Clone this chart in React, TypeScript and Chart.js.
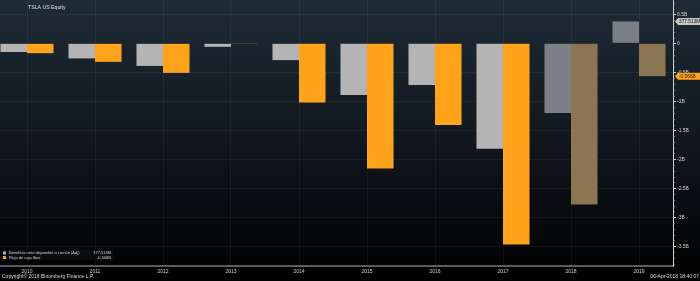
import React, { useEffect, useRef } from "react";
import { Chart, registerables } from "chart.js";

Chart.register(...registerables);

const years = ["2010", "2011", "2012", "2013", "2014", "2015", "2016", "2017", "2018", "2019"];
const estimateYears = ["2018", "2019"];
const netIncome = [-0.15, -0.26, -0.39, -0.06, -0.29, -0.89, -0.72, -1.82, -1.2, 0.377513];
const freeCashFlow = [-0.17, -0.32, -0.51, -0.005, -1.02, -2.16, -1.41, -3.47, -2.78, -0.566];
const seriesNames = ["Beneficio neto disponible a común (Adj)", "Flujo de caja libre"];
const lastLabels = ["377.513M", "-0.566B"];
const title = "TSLA US Equity";
const copyright = "Copyright© 2018 Bloomberg Finance L.P.";
const stamp = "06-Apr-2018 18:40:07";

const GRAY = "#b4b4b4";
const GRAY_EST = "#7b8087";
const ORANGE = "#ffa31a";
const ORANGE_EST = "#8b7553";
const FONT = "'Liberation Sans', Arial, sans-serif";

function fmt(v: number): string {
  if (Math.abs(v) < 1e-9) return "0";
  const r = Math.round(v * 100) / 100;
  return `${r}B`;
}

export default function App() {
  const ref = useRef<HTMLCanvasElement | null>(null);
  useEffect(() => {
    if (!ref.current) return;
    const bgPlugin = {
      id: "bg",
      beforeDraw(chart: any) {
        const { ctx, width, height } = chart;
        const g = ctx.createLinearGradient(0, 0, 0, height);
        g.addColorStop(0, "#1f2b36");
        g.addColorStop(0.5, "#10171e");
        g.addColorStop(1, "#000000");
        ctx.save();
        ctx.fillStyle = g;
        ctx.fillRect(0, 0, width, height);
        ctx.restore();
      },
    };
    const overlay = {
      id: "overlay",
      afterDraw(chart: any) {
        const { ctx, chartArea, width } = chart;
        const y = chart.scales.y;
        ctx.save();
        // minor ticks on the value axis
        ctx.strokeStyle = "#bdbdbd";
        ctx.lineWidth = 1;
        for (let v = Math.ceil(y.min * 10); v <= Math.floor(y.max * 10); v++) {
          if (v % 5 === 0) continue;
          const py = Math.round(y.getPixelForValue(v / 10)) + 0.5;
          ctx.beginPath();
          ctx.moveTo(chartArea.right, py);
          ctx.lineTo(chartArea.right + 1.5, py);
          ctx.stroke();
        }
        // title
        ctx.font = `5.2px ${FONT}`;
        ctx.fillStyle = "#e0e0e0";
        ctx.textBaseline = "middle";
        ctx.textAlign = "left";
        ctx.fillText(title, 35, 8);
        // legend
        ctx.fillStyle = "#0b0c0d";
        ctx.fillRect(7, 250, 113, 10);
        const cols = [GRAY, ORANGE];
        for (let i = 0; i < 2; i++) {
          const yy = 253 + i * 4.5;
          ctx.fillStyle = cols[i];
          ctx.fillRect(10, yy - 1.5, 3, 3);
          ctx.fillStyle = "#cfcfcf";
          ctx.font = `4px ${FONT}`;
          ctx.textAlign = "left";
          ctx.fillText(seriesNames[i], 16, yy);
          ctx.textAlign = "right";
          ctx.fillText(lastLabels[i], 118, yy);
        }
        // footer
        ctx.font = `5px ${FONT}`;
        ctx.fillStyle = "#d8d8d8";
        ctx.textAlign = "left";
        ctx.fillText(copyright, 9, 277);
        ctx.textAlign = "right";
        ctx.fillText(stamp, width - 1, 277);
        // tags
        const vals = [netIncome[netIncome.length - 1], freeCashFlow[freeCashFlow.length - 1]];
        const tagCols = ["#c4c4c4", ORANGE];
        for (let i = 0; i < 2; i++) {
          const py = y.getPixelForValue(vals[i]);
          const x0 = chartArea.right + 2;
          ctx.fillStyle = tagCols[i];
          ctx.beginPath();
          ctx.moveTo(x0, py);
          ctx.lineTo(x0 + 3, py - 3.5);
          ctx.lineTo(width, py - 3.5);
          ctx.lineTo(width, py + 3.5);
          ctx.lineTo(x0 + 3, py + 3.5);
          ctx.closePath();
          ctx.fill();
          ctx.fillStyle = "#222";
          ctx.font = `4.8px ${FONT}`;
          ctx.textAlign = "left";
          ctx.fillText(lastLabels[i], x0 + 4, py + 0.5);
        }
        ctx.restore();
      },
    };
    const isEst = (i: number) => estimateYears.includes(years[i]);
    const chart = new Chart(ref.current, {
      type: "bar",
      data: {
        labels: years,
        datasets: [
          {
            label: seriesNames[0],
            data: netIncome,
            backgroundColor: years.map((_, i) => (isEst(i) ? GRAY_EST : GRAY)),
            categoryPercentage: 0.78,
            barPercentage: 1,
          },
          {
            label: seriesNames[1],
            data: freeCashFlow,
            backgroundColor: years.map((_, i) => (isEst(i) ? ORANGE_EST : ORANGE)),
            categoryPercentage: 0.78,
            barPercentage: 1,
          },
        ],
      },
      options: {
        responsive: false,
        animation: false,
        layout: { padding: 0 },
        plugins: { legend: { display: false }, tooltip: { enabled: false } },
        scales: {
          x: {
            grid: { offset: false, color: "rgba(255,255,255,0.05)", drawTicks: false },
            border: { display: true, color: "#5c5c5c", width: 2 },
            ticks: { color: "#cfcfcf", font: { size: 5, family: FONT }, padding: 3, maxRotation: 0 },
            afterFit(s: any) {
              s.height = 15;
            },
          },
          y: {
            position: "right",
            min: -3.84,
            max: 0.747,
            grid: {
              color: (c: any) => (c.tick && c.tick.value !== 0 ? "rgba(255,255,255,0.05)" : "rgba(0,0,0,0)"),
              tickColor: "#d0d0d0",
              tickLength: 3,
            },
            border: { display: true, color: "#cfcfcf", width: 1 },
            ticks: {
              stepSize: 0.5,
              includeBounds: false,
              color: "#cfcfcf",
              font: { size: 5, family: FONT },
              padding: 1,
              callback: (v: any) => fmt(Number(v)),
            },
            afterFit(s: any) {
              s.width = 27;
              s.paddingTop = 0;
              s.paddingBottom = 0;
            },
          },
        },
      },
      plugins: [bgPlugin, overlay],
    } as any);
    return () => chart.destroy();
  }, []);
  return (
    <div style={{ position: "fixed", left: -7, top: 0, width: 707, height: 281 }}>
      <canvas ref={ref} width={707} height={281} style={{ display: "block" }} />
    </div>
  );
}
